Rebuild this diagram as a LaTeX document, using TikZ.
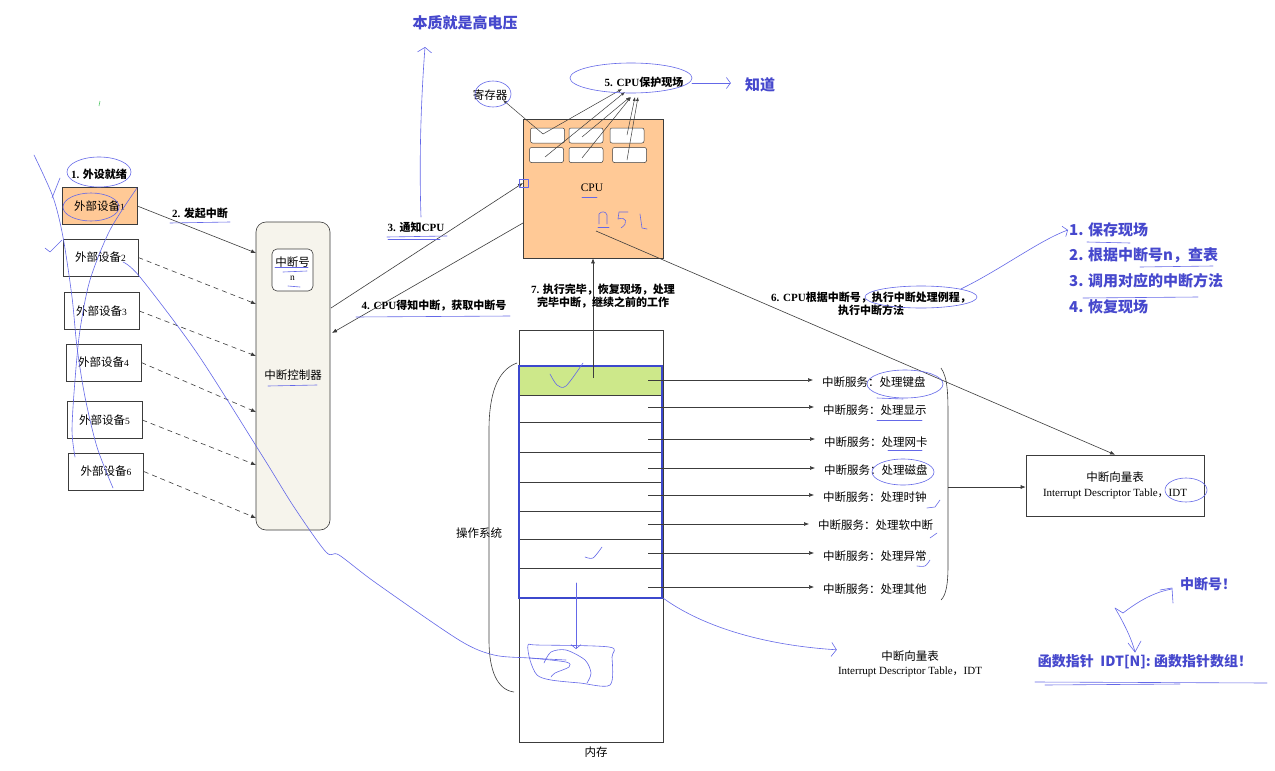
\documentclass[tikz,border=0pt]{standalone}
\usepackage{fontspec}
\setmainfont{Liberation Serif}
\newfontfamily\cjk{Noto Sans CJK SC}
\usetikzlibrary{arrows.meta,calc,shapes.geometric}
\definecolor{orangefill}{RGB}{255,201,150}
\definecolor{greenfill}{RGB}{205,232,138}
\definecolor{ctrlfill}{RGB}{246,244,236}
\definecolor{frameblue}{RGB}{60,72,205}
\definecolor{handblue}{RGB}{100,104,232}
\definecolor{textblue}{RGB}{70,72,205}
\definecolor{linegray}{RGB}{60,60,60}
\definecolor{tickgreen}{RGB}{90,200,110}
\newcommand{\zh}[1]{{\cjk #1}}
\newcommand{\fsz}[2]{\fontsize{#1}{#2}\selectfont}
\begin{document}
\begin{tikzpicture}[x=1pt,y=-1pt,
  dev/.style={draw=linegray, line width=0.6pt, minimum width=75pt, minimum height=37pt, inner sep=0pt, font=\fsz{11.5}{14}},
  lbl/.style={inner sep=1pt, font=\fsz{11.5}{14}},
  bl/.style={inner sep=1pt, font=\fsz{11}{13.5}\bfseries, align=center},
  blu/.style={inner sep=1pt, text=textblue, font=\cjk\bfseries\fsz{15}{18}},
  arr/.style={draw=linegray, line width=0.6pt, -{Latex[length=5pt,width=4pt]}},
  darr/.style={arr, dash pattern=on 5pt off 4pt},
  sarr/.style={draw=linegray, line width=0.5pt, -{Latex[length=4pt,width=3pt]}},
  regbox/.style={draw=linegray, fill=white, rounded corners=2pt, minimum width=34pt, minimum height=15pt, inner sep=0pt, line width=0.5pt},
  rowbox/.style={draw=linegray, minimum width=143pt, inner sep=0pt, line width=0.6pt},
  svc/.style={inner sep=1pt, anchor=west, font=\fsz{11.5}{14}},
  hand/.style={draw=handblue, line width=0.6pt, line cap=round, line join=round},
  hell/.style={hand, ellipse, inner sep=0pt},
  harr/.style={hand, -{Straight Barb[length=4pt,width=11pt]}}
]
\useasboundingbox (0,0) rectangle (1275,771);
\fill[white] (0,0) rectangle (1275,771);

% ---------------- devices ----------------
\node[dev, fill=orangefill] (d1) at (99.5,206) {\zh{外部设备}{\fsz{9.5}{9}1}};
\node[dev] (d2) at (100.5,257.5) {\zh{外部设备}{\fsz{9.5}{9}2}};
\node[dev] (d3) at (101.5,311) {\zh{外部设备}{\fsz{9.5}{9}3}};
\node[dev] (d4) at (103.5,362.5) {\zh{外部设备}{\fsz{9.5}{9}4}};
\node[dev] (d5) at (104.5,420) {\zh{外部设备}{\fsz{9.5}{9}5}};
\node[dev] (d6) at (106,471.5) {\zh{外部设备}{\fsz{9.5}{9}6}};
\node[bl] (lab1) at (99,174) {1. \zh{外设就绪}};

% ---------------- controller ----------------
\node[draw=linegray, fill=ctrlfill, rounded corners=10pt, minimum width=74pt, minimum height=308pt, line width=0.6pt] (ctrl) at (293,376) {};
\node[lbl] (ctrltxt) at (293,375) {\zh{中断控制器}};
\node[draw=linegray, fill=white, rounded corners=5pt, minimum width=41pt, minimum height=42pt, line width=0.6pt] (num) at (292.5,270) {};
\node[lbl] (numtxt) at (292.5,262) {\zh{中断号}};
\node[inner sep=0pt, font=\fsz{9.5}{9}] (numn) at (292.5,278) {n};

\coordinate (e1) at (256,253);
\coordinate (e2) at (256,304);
\coordinate (e3) at (256,356);
\coordinate (e4) at (256,412);
\coordinate (e5) at (256,465);
\coordinate (e6) at (256,518);
\draw[arr] (d1.east) -- (e1);
\draw[darr] (d2.east) -- (e2);
\draw[darr] (d3.east) -- (e3);
\draw[darr] (d4.east) -- (e4);
\draw[darr] (d5.east) -- (e5);
\draw[darr] (d6.east) -- (e6);
\node[bl] (lab2) at (200,213) {2. \zh{发起中断}};

% ---------------- CPU ----------------
\node[draw=linegray, fill=orangefill, minimum width=140pt, minimum height=139pt, line width=0.6pt] (cpu) at (593,188.5) {};
\node[lbl] (cputxt) at (592,188) {CPU};
\node[regbox] (r1) at (547.5,135.5) {};
\node[regbox] (r2) at (586,135.5) {};
\node[regbox] (r3) at (627,135.5) {};
\node[regbox] (r4) at (546.5,155) {};
\node[regbox] (r5) at (586,155) {};
\node[regbox] (r6) at (629.5,155) {};
\node[lbl] (reg) at (490,95) {\zh{寄存器}};
\node[bl] (save) at (644,82) {5. CPU\zh{保护现场}};

\coordinate (s1) at (543,134);
\coordinate (s4) at (545,157);
\coordinate (s2) at (582,137);
\coordinate (s5) at (582,158);
\coordinate (s3) at (627,135);
\coordinate (s6) at (627,160);
\coordinate (t0) at (503,100);
\coordinate (t1) at (622,89);
\coordinate (t4) at (625,92);
\coordinate (t2) at (630,97);
\coordinate (t5) at (631,97);
\coordinate (t3) at (635,97);
\coordinate (t6) at (638,97);
\draw[sarr] (s1) -- (t0);
\draw[sarr] (s1) -- (t1);
\draw[sarr] (s4) -- (t4);
\draw[sarr] (s2) -- (t2);
\draw[sarr] (s5) -- (t5);
\draw[sarr] (s3) -- (t3);
\draw[sarr] (s6) -- (t6);

% arrows 3 and 4
\coordinate (c3s) at (331,308);
\coordinate (c3e) at (523,183);
\coordinate (c4s) at (523,223);
\coordinate (c4e) at (332,333);
\draw[arr] (c3s) -- (c3e);
\draw[arr] (c4s) -- (c4e);
\node[bl] (lab3) at (416,227) {3. \zh{通知}CPU};
\node[bl] (lab4) at (434,306) {4. CPU\zh{得知中断，获取中断号}};

% ---------------- memory ----------------
\node[draw=linegray, minimum width=144pt, minimum height=412pt, line width=0.6pt] (mem) at (591,536) {};
\node[lbl] (memtxt) at (596,752) {\zh{内存}};
\node[rowbox, fill=greenfill, minimum height=29pt] (w1) at (590.5,380.5) {};
\node[rowbox, minimum height=27pt] (w2) at (590.5,408.5) {};
\node[rowbox, minimum height=30pt] (w3) at (590.5,437) {};
\node[rowbox, minimum height=30pt] (w4) at (590.5,467) {};
\node[rowbox, minimum height=29pt] (w5) at (590.5,496.5) {};
\node[rowbox, minimum height=28pt] (w6) at (590.5,525) {};
\node[rowbox, minimum height=29pt] (w7) at (590.5,553.5) {};
\node[rowbox, minimum height=30pt] (w8) at (590.5,583) {};
\node[draw=frameblue, line width=1.6pt, minimum width=143pt, minimum height=232pt, inner sep=0pt] (osf) at (590.5,482) {};
\node[lbl] (ostxt) at (479,533) {\zh{操作系统}};
\draw[linegray, line width=0.6pt] (517,363) .. controls (497,370) and (489,395) .. (489,430) -- (489,640) .. controls (489,672) and (498,690) .. (514,692);

% arrow 7
\coordinate (c7s) at (593,378);
\draw[arr] (c7s) -- (cpu.south);
\node[bl] (lab7) at (603,296) {7. \zh{执行完毕，恢复现场，处理}\\\zh{完毕中断，继续之前的工作}};

% services
\node[svc] (l1) at (821,382) {\zh{中断服务：处理键盘}};
\node[svc] (l2) at (822,410) {\zh{中断服务：处理显示}};
\node[svc] (l3) at (823,442) {\zh{中断服务：处理网卡}};
\node[svc] (l4) at (823,470) {\zh{中断服务：处理磁盘}};
\node[svc] (l5) at (822,497) {\zh{中断服务：处理时钟}};
\node[svc] (l6) at (817,525) {\zh{中断服务：处理软中断}};
\node[svc] (l7) at (822,556) {\zh{中断服务：处理异常}};
\node[svc] (l8) at (822,589) {\zh{中断服务：处理其他}};
\coordinate (a1) at (648,380);
\coordinate (a2) at (648,407);
\coordinate (a3) at (648,439);
\coordinate (a4) at (648,468);
\coordinate (a5) at (648,495);
\coordinate (a6) at (648,524);
\coordinate (a7) at (648,553);
\coordinate (a8) at (648,587);
\foreach \i in {1,...,8}{\draw[arr, shorten >=8pt] (a\i) -- (a\i -| l\i.west);}

% brace and IDT
\draw[linegray, line width=0.6pt] (941,368) .. controls (948,378) and (948,395) .. (948,420) -- (948,565) .. controls (948,585) and (946,595) .. (941,600);
\node[draw=linegray, minimum width=178pt, minimum height=61pt, line width=0.6pt, align=center, font=\fsz{11.5}{15}] (idt) at (1115,485.5) {\zh{中断向量表}\\{\fsz{11}{15}Interrupt Descriptor Table\zh{，}IDT}};
\coordinate (bm) at (948,487);
\draw[arr] (bm) -- (bm -| idt.west);
\coordinate (c6s) at (596,231);
\draw[arr] (c6s) -- (idt.north);
\node[bl] (lab6) at (871,304) {6. CPU\zh{根据中断号，执行中断处理例程，}\\\zh{执行中断方法}};
\node[align=center, inner sep=1pt, font=\fsz{11.5}{14}] (idt2) at (910,664) {\zh{中断向量表}\\{\fsz{11}{14}Interrupt Descriptor Table\zh{，}IDT}};

% ---------------- blue texts ----------------
\node[blu] (bz) at (465,23) {本质就是高电压};
\node[blu] (zd) at (760,85) {知道};
\node[blu, anchor=west] (b1) at (1068,230) {1. 保存现场};
\node[blu, anchor=west] (b2) at (1068,255) {2. 根据中断号n，查表};
\node[blu, anchor=west] (b3) at (1068,281) {3. 调用对应的中断方法};
\node[blu, anchor=west] (b4) at (1068,307) {4. 恢复现场};
\node[blu, font=\cjk\bfseries\fsz{14}{16}] (zdh) at (1208,584) {中断号！};
\node[blu, font=\cjk\bfseries\fsz{14}{16}] (fp) at (1145,662) {函数指针\ \ IDT[N]: 函数指针数组！};

% ---------------- hand annotations ----------------
\coordinate (hbz0) at (421,217);
\coordinate (hbz1) at (425,47);
\draw[hand, -{Straight Barb[length=5pt,width=14pt]}] (hbz0) .. controls (419,160) and (421,100) .. (hbz1);
\node[hell, minimum width=122pt, minimum height=30pt] (savell) at (631,78) {};
\coordinate (zda) at (692,83);
\draw[harr, shorten >=13pt] (zda) -- (zda -| zd.west);
\node[hell, minimum width=36pt, minimum height=26pt] (regell) at (493,94) {};
\node[hell, minimum width=64pt, minimum height=30pt] (lab1ell) at (99,172) {};
\node[hell, minimum width=56pt, minimum height=28pt] (d1ell) at (91,207) {};
\node[hell, minimum width=112pt, minimum height=22pt] (liell) at (921,297) {};
\draw[harr] (liell.north east) .. controls (1000,270) and (1040,240) .. (b1.west);
\node[hell, minimum width=76pt, minimum height=28pt] (kbell) at (905,384) {};
\node[hell, minimum width=62pt, minimum height=26pt] (diskell) at (903,472) {};
\node[hell, minimum width=42pt, minimum height=24pt] (idtell) at (1186,490) {};
% left strokes
\draw[hand] plot[smooth] coordinates {(34,155) (53,197) (63,237) (72,297) (77,347) (85,397) (97,447) (113,488)};
\draw[hand] plot[smooth] coordinates {(137,188) (110,230) (90,280) (80,330) (75,380) (72,430) (75,457)};
\draw[hand] (60,178) -- (52,198);
\draw[hand] (45,248) -- (50,252) -- (62,240);
\draw[hand] plot[smooth] coordinates {(123,262) (140,277) (197,353) (263,457) (294,507) (326,552) (339,555) (376,583) (459,640) (494,655) (530,658) (566,660)};
\draw[tickgreen, line width=0.6pt] (100,101) -- (99,106);
% memory scribble
\draw[hand] plot[smooth cycle] coordinates {(528,645) (537,645) (609,647) (612,657) (610,685) (580,683) (551,680) (537,675) (530,660)};
\draw[hand] plot[smooth] coordinates {(544,663) (551,652) (566,650) (585,660) (591,673) (587,683)};
\draw[hand] plot[smooth] coordinates {(530,658) (566,662) (569,667) (555,673) (551,677)};
\coordinate (vm0) at (576,583);
\coordinate (vm1) at (576,649);
\draw[hand, -{Straight Barb[length=4pt,width=10pt]}] (vm0) -- (vm1);
\draw[hand] plot[smooth] coordinates {(550,374) (557,385) (566,386) (583,363)};
\draw[hand] plot[smooth] coordinates {(585,557) (593,558) (602,547)};
\coordinate (cv0) at (663,598);
\draw[hand, -{Straight Barb[length=5pt,width=14pt]}] (cv0) .. controls (700,625) and (760,645) .. (idt2.north west);
% ticks near service labels
\draw[hand] (927,508) -- (935,507) -- (940,500);
\draw[hand] (930,538) -- (937,533);
\draw[hand] plot[smooth] coordinates {(917,566) (925,566) (930,560)};
% underlines
\draw[hand] (170,223) -- (230,222);
\draw[hand] (387,237) -- (447,236);
\draw[hand] (388,239) -- (440,239);
\draw[hand] (356,317) -- (510,316);
\draw[hand] (268,386) -- (317,385);
\draw[hand] (275,267) -- (308,267);
\draw[hand] (283,272) -- (307,271);
\draw[hand] (288,286) -- (300,287);
\draw[hand] (582,197) -- (597,197);
\draw[hand] (877,398) -- (903,399);
\draw[hand] (877,420) -- (922,420);
\draw[hand] (888,450) -- (922,450);
\draw[hand] (1087,242) -- (1130,243);
\draw[hand] (1140,267) -- (1213,266);
\draw[hand] (1083,298) -- (1198,297);
\draw[hand] (1035,682) -- (1267,683);
\draw[hand] (1045,685) -- (1180,684);
% small box at CPU
\draw[hand] (519,179) rectangle (528,187);
% n 5 1
\draw[hand] (599,224) -- (599,214) .. controls (601,211) and (606,211) .. (607,215) -- (607,224);
\draw[hand] (598,227) -- (609,227);
\draw[hand] (628,212) -- (619,212) -- (618,219) .. controls (626,216) and (629,223) .. (621,228);
\draw[hand] (640,214) -- (642,228) -- (647,229);
% 中断号 arrows
\draw[hand] (1115,608) -- (1123,613);
\draw[hand] (1123,613) .. controls (1140,600) and (1155,592) .. (1172,589);
\draw[hand] (1160,590) -- (1172,588) -- (1173,603);
\draw[hand] (1115,608) .. controls (1125,625) and (1132,640) .. (1135,652);
\draw[hand] (1128,643) -- (1135,652) -- (1141,641);
\end{tikzpicture}
\end{document}
